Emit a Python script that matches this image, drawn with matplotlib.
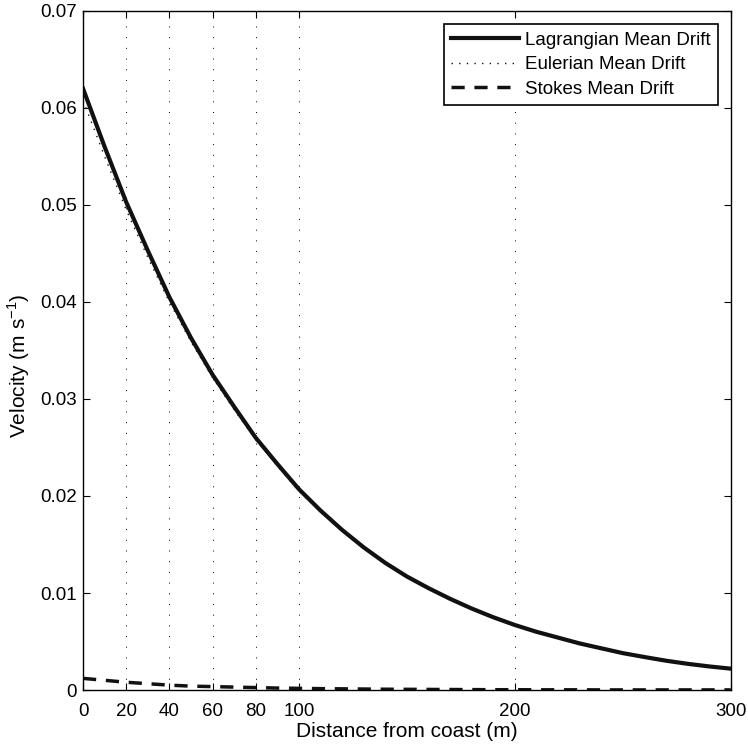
import matplotlib
matplotlib.use("Agg")
import matplotlib.pyplot as plt

plt.rcParams['font.family'] = ['Liberation Sans', 'DejaVu Sans']
plt.rcParams['mathtext.fontset'] = 'custom'
plt.rcParams['mathtext.rm'] = 'Liberation Sans'

# distance from coast (m)
distance = [0, 10, 20, 30, 40, 50, 60, 70, 80, 90, 100, 110, 120, 130, 140,
            150, 160, 170, 180, 190, 200, 210, 220, 230, 240, 250, 260, 270,
            280, 290, 300]
# velocities (m/s)
lagrangian = [0.0620, 0.0560, 0.0503, 0.0453, 0.0405, 0.0363, 0.0325, 0.0292,
              0.0260, 0.0233, 0.0207, 0.0185, 0.0165, 0.0147, 0.0131, 0.0117,
              0.0105, 0.0094, 0.0084, 0.0075, 0.0067, 0.0060, 0.0054, 0.0048,
              0.0043, 0.0038, 0.0034, 0.00302, 0.00270, 0.00243, 0.0022]
eulerian = [0.0608, 0.0550, 0.0495, 0.0446, 0.0400, 0.0359, 0.0322, 0.0289,
            0.0258, 0.0231, 0.0205, 0.0184, 0.0164, 0.0146, 0.0130, 0.0117,
            0.0105, 0.0094, 0.0084, 0.0075, 0.0067, 0.0060, 0.0054, 0.0048,
            0.0043, 0.0038, 0.0034, 0.00302, 0.00270, 0.00243, 0.0022]
stokes = [0.0012, 0.0010, 0.0008, 0.00065, 0.0005, 0.0004, 0.00035, 0.0003,
          0.00025, 0.0002, 0.00017, 0.00014, 0.00012, 0.0001, 0.00008, 0.00007,
          0.00006, 0.00005, 0.00004, 0.00003, 0.00003, 0.00002, 0.00002,
          0.00002, 0.00001, 0.00001, 0.00001, 0.00001, 0.00001, 0.00001,
          0.00001]

xticks = [0, 20, 40, 60, 80, 100, 200, 300]
grid_x = [20, 40, 60, 80, 100, 200]
yticks = [0, 0.01, 0.02, 0.03, 0.04, 0.05, 0.06, 0.07]
ytick_labels = ['0', '0.01', '0.02', '0.03', '0.04', '0.05', '0.06', '0.07']


def main():
    fig = plt.figure(figsize=(7.48, 7.47), dpi=100)
    ax = fig.add_axes([0.111, 0.0763, 0.866, 0.909])

    for gx in grid_x:
        ax.axvline(gx, color='black', linestyle=(0, (1, 10)), linewidth=0.7, zorder=0)

    ax.plot(distance, lagrangian, color='#111111', linewidth=3, label='Lagrangian Mean Drift')
    ax.plot(distance, eulerian, color='#111111', linewidth=1, linestyle=(0, (1, 4.5)),
            label='Eulerian Mean Drift')
    ax.plot(distance, stokes, color='#111111', linewidth=2.5, linestyle=(0, (3.8, 2.8)),
            label='Stokes Mean Drift')

    ax.set_xlim(0, 300)
    ax.set_ylim(0, 0.07)
    ax.set_xticks(xticks)
    ax.set_yticks(yticks)
    ax.set_yticklabels(ytick_labels)
    ax.tick_params(direction='in', top=True, right=True, length=5, labelsize=13.5)
    ax.tick_params(axis='x', pad=9)
    ax.tick_params(axis='y', pad=4.5)
    for s in ax.spines.values():
        s.set_linewidth(1.0)

    ax.set_xlabel('Distance from coast (m)', fontsize=15, labelpad=2)
    ax.set_ylabel('Velocity (m s$^{-1}$)', fontsize=15)
    ax.yaxis.set_label_coords(-0.079, 0.478)

    leg = ax.legend(loc='upper right', fontsize=13.5, fancybox=False, framealpha=1,
                    edgecolor='black', handlelength=3.6, borderaxespad=0.7,
                    labelspacing=0.4, handletextpad=0.3)
    leg.get_frame().set_linewidth(1.2)

    fig.savefig('out.png', dpi=100)


if __name__ == "__main__":
    main()
